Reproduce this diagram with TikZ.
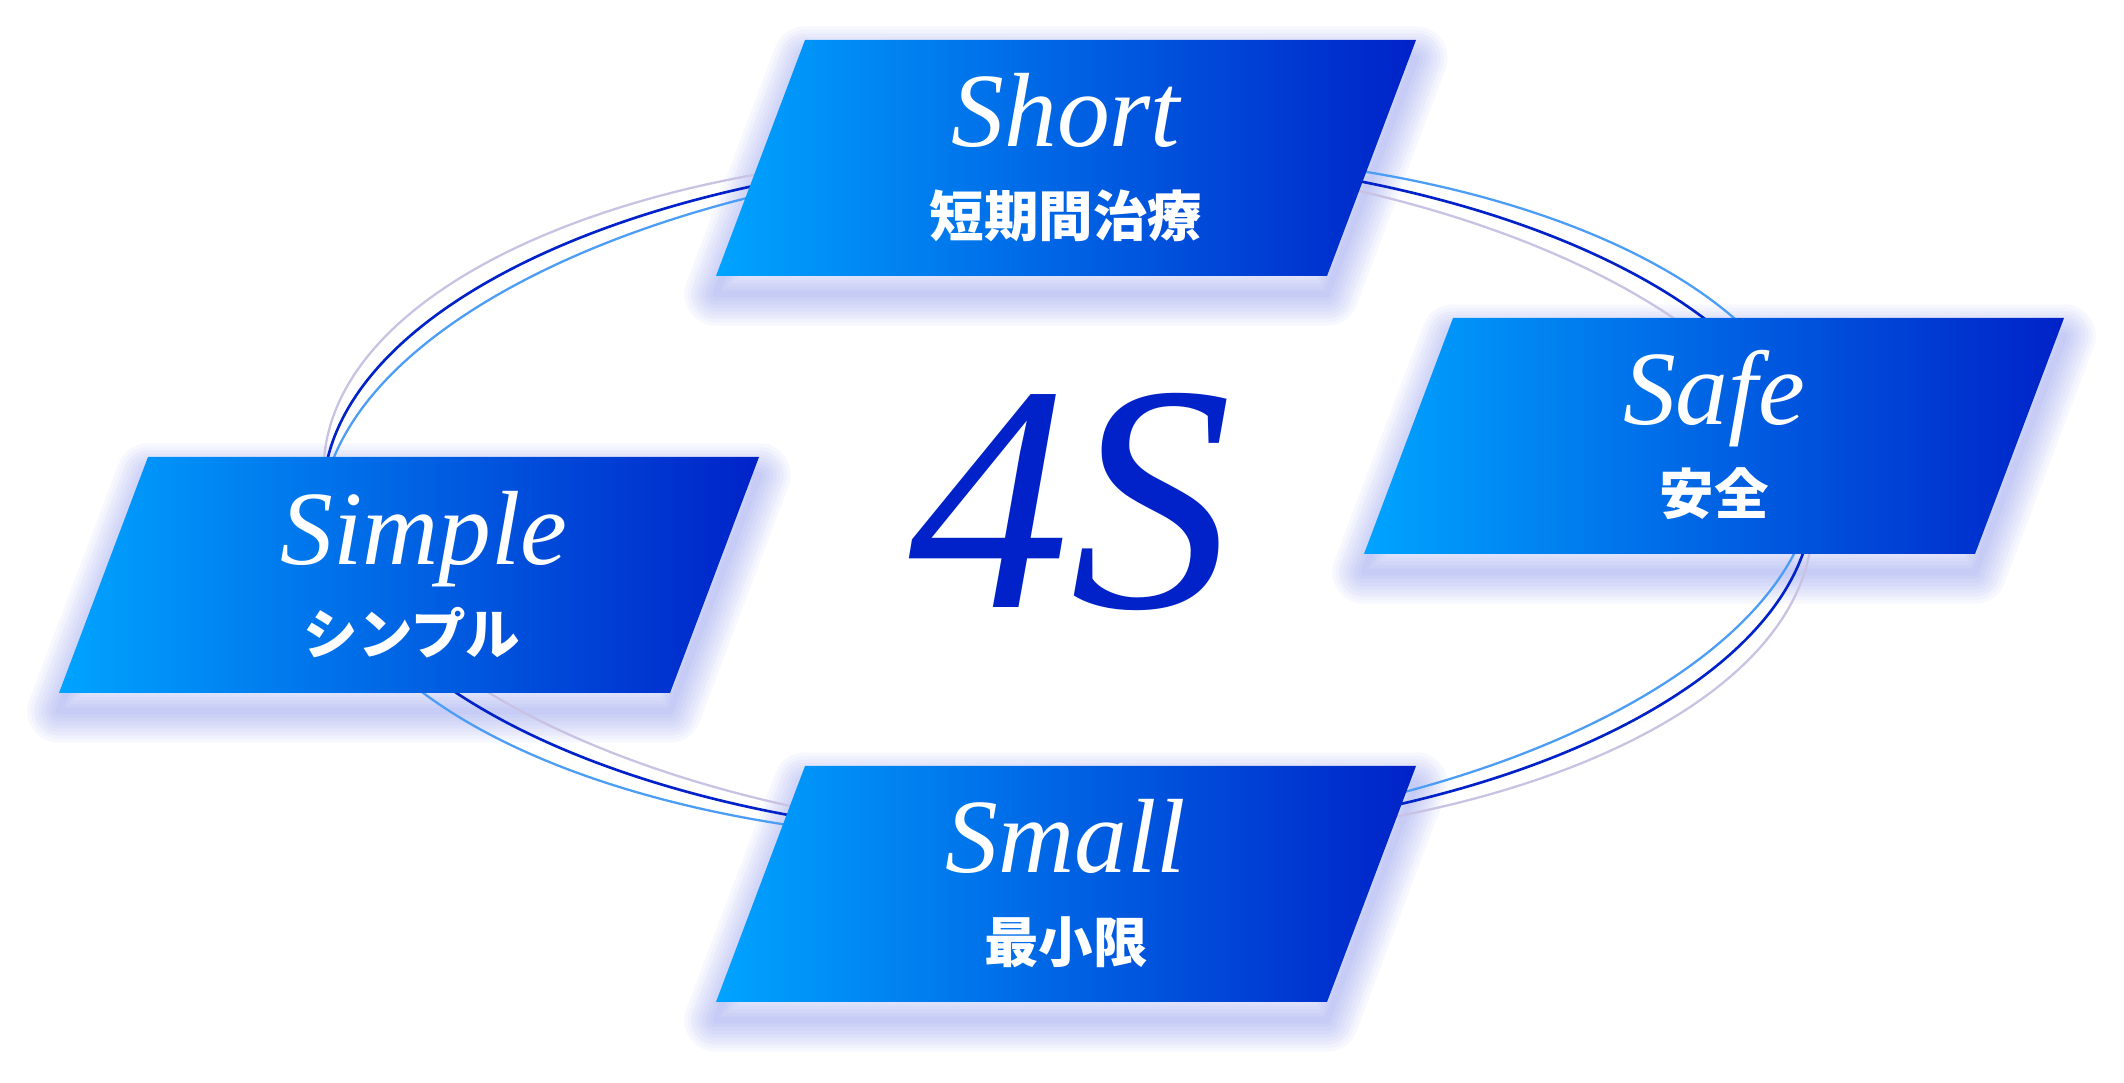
\documentclass[tikz,border=0pt]{standalone}
\usepackage{fontspec}
\newfontfamily\enfont{Liberation Serif}
\newfontfamily\jpfont{Noto Sans CJK JP}
\definecolor{deepblue}{HTML}{0022C8}
\definecolor{skyblue}{HTML}{00A4FF}
\definecolor{ringlight}{HTML}{4C9DF6}
\definecolor{ringlav}{HTML}{C9C2E2}
\definecolor{glow}{HTML}{6A78E6}
\begin{document}
\begin{tikzpicture}[x=0.01cm,y=-0.01cm,
    en/.style={text=white,font=\enfont\itshape\fontsize{30}{30}\selectfont,anchor=base},
    jp/.style={text=white,font=\jpfont\bfseries\fontsize{15.5}{16}\selectfont},
    ring/.style={line width=0.65pt}]
        \useasboundingbox (0,0) rectangle (2124,1083);
        % soft shadows under the cards
        \foreach \x/\y in {805/40,1453/318,148/457,805/766}
          \foreach \w in {2,4,...,18}
            \draw [glow,opacity=0.05,line width=\w pt,line join=round]
              (\x,\y+18) -- ++(611,0) -- ++(-89,236) -- ++(-611,0) -- cycle;
        % rings
        \draw [ringlav,ring,rotate around={-2.5:(1068,497)}] (1068,497) ellipse [x radius=745,y radius=343];
        \draw [ringlight,ring,rotate around={2.5:(1068,497)}] (1068,497) ellipse [x radius=748,y radius=343];
        \draw [deepblue,ring,line width=0.75pt] (1068,497) ellipse [x radius=745,y radius=343];
        % cards
        \foreach \x/\y in {805/40,1453/318,148/457,805/766}
          \shade [left color=skyblue,right color=deepblue]
              (\x,\y) -- ++(611,0) -- ++(-89,236) -- ++(-611,0) -- cycle;
        \node [en] (short) at (1066,147) {Short};
        \node [jp] (shortjp) at (1066,216) {短期間治療};
        \node [en] (safe) at (1714,425) {Safe};
        \node [jp] (safejp) at (1714,494) {安全};
        \node [en] (simple) at (424,565) {Simple};
        \node [jp] (simplejp) at (412,633) {シンプル};
        \node [en] (small) at (1066,873) {Small};
        \node [jp] (smalljp) at (1066,942) {最小限};
        \node [text=deepblue,font=\enfont\itshape\fontsize{92}{92}\selectfont,anchor=base] (four) at (1070,608) {4S};
\end{tikzpicture}
\end{document}
